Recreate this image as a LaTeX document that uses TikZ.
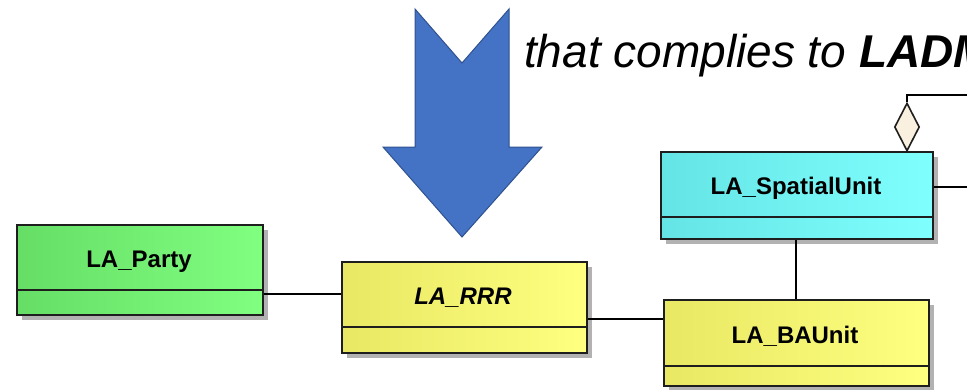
\documentclass[tikz,border=0pt]{standalone}
\usepackage{fontspec}
\setmainfont{Liberation Sans}
\usetikzlibrary{shapes.geometric,shadows}
\definecolor{arrowblue}{HTML}{4472C4}
\definecolor{arrowedge}{HTML}{2F528F}
\definecolor{diamfill}{HTML}{FAF0E0}
\definecolor{boxedge}{HTML}{1E1E1E}
\begin{document}
\begin{tikzpicture}[x=1pt,y=-1pt,
  umlbox/.style={draw=boxedge, line width=1.6pt, rectangle, inner sep=0pt, anchor=north west,
    drop shadow={shadow xshift=5pt, shadow yshift=-5pt, fill=black!30, opacity=1}},
  greenbox/.style={umlbox, left color=green!55!black!10!green!60!white, right color={rgb,255:red,128;green,255;blue,128}},
  yellowbox/.style={umlbox, left color={rgb,255:red,232;green,232;blue,100}, right color={rgb,255:red,255;green,255;blue,128}},
  cyanbox/.style={umlbox, left color={rgb,255:red,100;green,228;blue,228}, right color={rgb,255:red,128;green,255;blue,255}},
  lbl/.style={font=\fontsize{24}{28}\selectfont\bfseries, inner sep=0pt},
  divider/.style={draw=boxedge, line width=1.6pt},
  conn/.style={draw=black, line width=1.6pt}
]
\useasboundingbox (0,0) rectangle (967,389);

% boxes
\node[greenbox, left color={rgb,255:red,102;green,222;blue,102}, minimum width=246pt, minimum height=90pt] (party) at (16,224) {};
\node[yellowbox, minimum width=245pt, minimum height=91pt] (rrr) at (341,261) {};
\node[cyanbox, minimum width=272pt, minimum height=87pt] (su) at (660,151) {};
\node[yellowbox, minimum width=265pt, minimum height=86pt] (ba) at (663,299) {};

% dividers
\draw[divider] (party.west |- 0,290) -- (party.east |- 0,290);
\draw[divider] (rrr.west |- 0,327) -- (rrr.east |- 0,327);
\draw[divider] (su.west |- 0,217) -- (su.east |- 0,217);
\draw[divider] (ba.west |- 0,366) -- (ba.east |- 0,366);

% labels
\node[lbl] (partyt) at (139,262) {LA\_Party};
\node[lbl, font=\fontsize{24}{28}\selectfont\bfseries\itshape] (rrrt) at (463,298) {LA\_RRR};
\node[lbl] (sut) at (796,188) {LA\_SpatialUnit};
\node[lbl] (bat) at (795,336) {LA\_BAUnit};

% connectors
\draw[conn] (party.east |- 0,294) -- (rrr.west |- 0,294);
\draw[conn] (rrr.east |- 0,319) -- (ba.west |- 0,319);
\draw[conn] (su.south -| 796,0) -- (ba.north -| 796,0);
\coordinate (suout) at (967,187);
\draw[conn] (su.east |- suout) -- (suout);

\node[diamond, draw=boxedge, fill=diamfill, line width=1.6pt, minimum width=25pt, minimum height=48pt, inner sep=0pt] (dia) at (907,127) {};
\coordinate (diabend) at (907,95);
\coordinate (diaout) at (967,95);
\draw[conn] (dia.north) -- (diabend) -- (diaout);

% big arrow
\draw[fill=arrowblue, draw=arrowedge, line width=1pt, line join=miter]
  (415,9) -- (462,63) -- (509,9) -- (509,147) -- (542,147) -- (462,237) -- (383,147) -- (415,147) -- cycle;

% text
\node[anchor=base west, inner sep=0pt, font=\fontsize{46}{50}\selectfont\itshape] (title) at (524,67) {that complies to \textbf{LADM}};
\end{tikzpicture}
\end{document}
